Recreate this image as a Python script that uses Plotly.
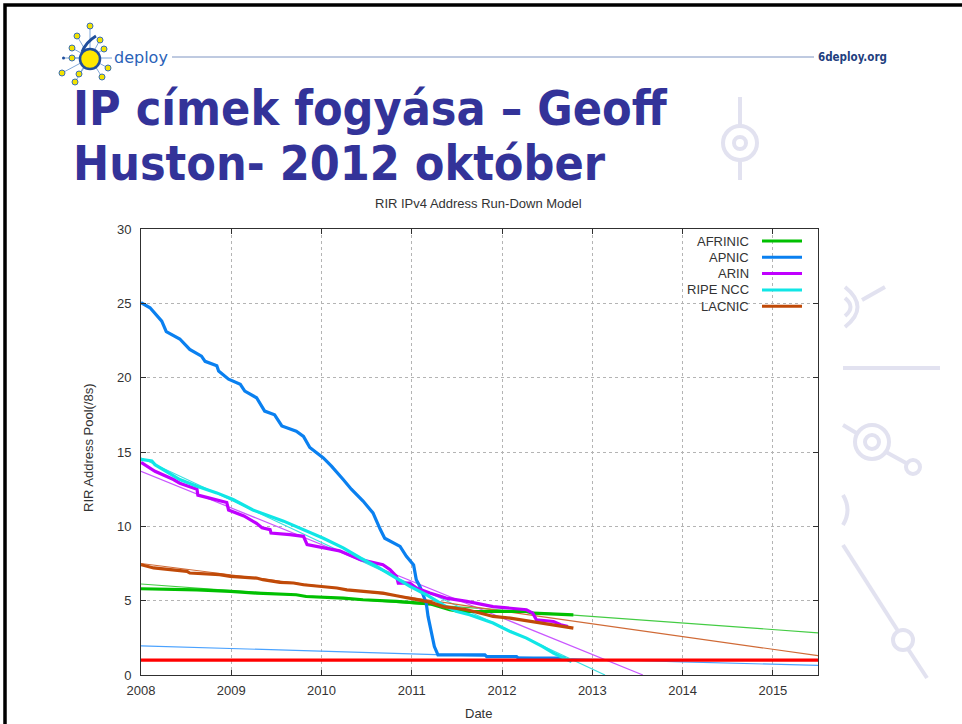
import plotly.graph_objects as go

# ---------------- data ----------------
AFRINIC_X = [2008.0, 2008.62, 2008.99, 2009.28, 2009.72, 2009.83, 2010.24, 2010.46, 2010.83,
             2011.20, 2011.42, 2011.53, 2011.90, 2012.27, 2012.34, 2012.79]
AFRINIC_Y = [5.8, 5.73, 5.62, 5.51, 5.4, 5.28, 5.17, 5.06, 4.95,
             4.79, 4.39, 4.27, 4.27, 4.27, 4.16, 4.05]

APNIC_X = [2008.0, 2008.10, 2008.23, 2008.28, 2008.43, 2008.54, 2008.67, 2008.71, 2008.84, 2008.86,
           2008.97, 2009.10, 2009.15, 2009.28, 2009.37, 2009.48, 2009.56, 2009.72, 2009.80, 2009.87,
           2010.02, 2010.11, 2010.24, 2010.33, 2010.46, 2010.57, 2010.65, 2010.70, 2010.87, 2010.94,
           2011.02, 2011.05, 2011.09, 2011.16, 2011.18, 2011.22, 2011.25, 2011.29, 2011.81, 2011.83,
           2012.16, 2012.18, 2012.70]
APNIC_Y = [25.05, 24.7, 23.8, 23.1, 22.6, 21.9, 21.45, 21.1, 20.8, 20.45,
           19.9, 19.55, 19.1, 18.65, 17.75, 17.5, 16.75, 16.4, 16.05, 15.3,
           14.6, 14.05, 13.15, 12.5, 11.7, 10.9, 9.8, 9.2, 8.65, 7.98,
           7.4, 6.4, 5.95, 4.84, 3.94, 2.82, 1.91, 1.35, 1.35, 1.24,
           1.24, 1.13, 1.13]

ARIN_X = [2008.0, 2008.155, 2008.36, 2008.43, 2008.62, 2008.63, 2008.76, 2008.95, 2008.97, 2009.14,
          2009.28, 2009.34, 2009.43, 2009.44, 2009.65, 2009.80, 2009.84, 2010.02, 2010.20, 2010.43,
          2010.68, 2010.76, 2010.83, 2010.85, 2010.98, 2011.05, 2011.20, 2011.38, 2011.61, 2011.90,
          2012.12, 2012.27, 2012.34, 2012.38, 2012.57, 2012.65, 2012.73]
ARIN_Y = [14.3, 13.7, 13.15, 12.9, 12.5, 12.1, 11.9, 11.6, 11.1, 10.7,
          10.2, 9.9, 9.78, 9.55, 9.44, 9.33, 8.77, 8.55, 8.35, 7.76,
          7.42, 7.08, 6.63, 6.18, 6.18, 5.85, 5.51, 5.17, 4.95, 4.6,
          4.5, 4.39, 4.16, 3.71, 3.6, 3.38, 3.26]

RIPE_X = [2008.0, 2008.12, 2008.155, 2008.43, 2008.62, 2008.84, 2009.02, 2009.24, 2009.58, 2009.80,
          2010.02, 2010.24, 2010.43, 2010.61, 2010.79, 2010.98, 2011.16, 2011.38, 2011.50, 2011.64,
          2011.90, 2012.09, 2012.27, 2012.45, 2012.57, 2012.68, 2012.77]
RIPE_Y = [14.5, 14.4, 14.15, 13.15, 12.7, 12.25, 11.8, 11.1, 10.35, 9.8,
          9.2, 8.55, 7.87, 7.3, 6.63, 5.96, 5.4, 4.6, 4.27, 4.05,
          3.5, 2.92, 2.48, 1.91, 1.47, 1.13, 0.9]

LACNIC_X = [2008.0, 2008.14, 2008.51, 2008.54, 2008.87, 2008.99, 2009.28, 2009.35, 2009.54, 2009.69,
            2009.80, 2010.0, 2010.17, 2010.28, 2010.46, 2010.68, 2010.83, 2011.02, 2011.20, 2011.35,
            2011.61, 2011.83, 2011.90, 2012.09, 2012.31, 2012.42, 2012.64, 2012.79]
LACNIC_Y = [7.42, 7.2, 6.97, 6.86, 6.75, 6.63, 6.52, 6.41, 6.23, 6.19,
            6.07, 5.96, 5.85, 5.73, 5.62, 5.51, 5.33, 5.11, 4.9, 4.6,
            4.39, 4.05, 3.94, 3.83, 3.6, 3.49, 3.26, 3.15]

# model (projection) curves
AFRINIC_MODEL_X = [2008.0, 2015.5]
AFRINIC_MODEL_Y = [6.12, 2.84]
APNIC_MODEL_X = [2008.0, 2011.3, 2013.0, 2014.0, 2015.5]
APNIC_MODEL_Y = [1.96, 1.35, 1.05, 0.88, 0.65]
ARIN_MODEL_X = [2008.0, 2013.56]
ARIN_MODEL_Y = [13.7, 0.0]
RIPE_MODEL_X = [2008.0, 2013.14]
RIPE_MODEL_Y = [14.6, 0.0]
LACNIC_MODEL_X = [2008.0, 2009.0, 2010.0, 2011.0, 2012.0, 2013.0, 2014.0, 2015.0, 2015.5]
LACNIC_MODEL_Y = [7.5, 6.75, 6.0, 5.2, 4.3, 3.45, 2.6, 1.75, 1.3]

THRESHOLD_X = [2008.0, 2015.5]
THRESHOLD_Y = [1.0, 1.0]

X_TICKS = [2008, 2009, 2010, 2011, 2012, 2013, 2014, 2015]
X_TICK_LABELS = ["2008", "2009", "2010", "2011", "2012", "2013", "2014", "2015"]
Y_TICKS = [0, 5, 10, 15, 20, 25, 30]

SERIES_NAMES = ["AFRINIC", "APNIC", "ARIN", "RIPE NCC", "LACNIC"]
SERIES_COLORS = ["#00c000", "#0a80f0", "#c000ff", "#10e6e6", "#c04a08"]
MODEL_COLORS = ["#44cc44", "#4aa2ff", "#c957ff", "#3ce0e0", "#d06a36"]

SERIES = [(AFRINIC_X, AFRINIC_Y), (APNIC_X, APNIC_Y), (ARIN_X, ARIN_Y), (RIPE_X, RIPE_Y), (LACNIC_X, LACNIC_Y)]
MODELS = [(AFRINIC_MODEL_X, AFRINIC_MODEL_Y), (APNIC_MODEL_X, APNIC_MODEL_Y), (ARIN_MODEL_X, ARIN_MODEL_Y),
          (RIPE_MODEL_X, RIPE_MODEL_Y), (LACNIC_MODEL_X, LACNIC_MODEL_Y)]

# ---------------- figure geometry ----------------
W, H = 962, 724
L, R, T, B = 141, 818, 229, 675


def PX(x):
    return (x - L) / (R - L)


def PY(y):
    return (B - y) / (B - T)


FONT = "Liberation Sans, Arial, sans-serif"
TXT = "#333333"

fig = go.Figure()

for (mx, my), c in zip(MODELS, MODEL_COLORS):
    fig.add_trace(go.Scatter(x=mx, y=my, mode="lines", line=dict(color=c, width=1.2),
                             showlegend=False, hoverinfo="skip"))

for (sx, sy), c, n in zip(SERIES, SERIES_COLORS, SERIES_NAMES):
    fig.add_trace(go.Scatter(x=sx, y=sy, mode="lines", name=n, line=dict(color=c, width=3.2),
                             showlegend=False))

fig.add_trace(go.Scatter(x=THRESHOLD_X, y=THRESHOLD_Y, mode="lines", line=dict(color="#ff0000", width=3.2),
                         showlegend=False, hoverinfo="skip"))

shapes = []
annotations = []

# slide border (top & left visible)
shapes.append(dict(type="rect", xref="paper", yref="paper", x0=PX(5), x1=PX(1000), y0=PY(5), y1=PY(760),
                   line=dict(color="#000000", width=3.5), layer="below"))

# background decorations (faint)
DC = "#e2e2f0"


def circ(cx, cy, r, w=4):
    return dict(type="circle", xref="paper", yref="paper", x0=PX(cx - r), x1=PX(cx + r), y0=PY(cy + r),
                y1=PY(cy - r), line=dict(color=DC, width=w), layer="below")


def seg(x0, y0, x1, y1, w=4, col=DC):
    return dict(type="line", xref="paper", yref="paper", x0=PX(x0), x1=PX(x1), y0=PY(y0), y1=PY(y1),
                line=dict(color=col, width=w), layer="below")


shapes += [seg(740, 97, 740, 126), seg(740, 160, 740, 180), circ(740, 143, 17), circ(740, 143, 6)]
shapes += [seg(862, 300, 885, 287), seg(843, 368, 940, 368)]
shapes += [seg(843, 425, 858, 434), circ(872, 442, 17), circ(872, 442, 7), seg(886, 452, 906, 463),
           circ(913, 467, 7)]
shapes += [seg(843, 545, 898, 631), circ(903, 640, 10), seg(908, 649, 927, 678)]
# partial rings cut by the chart picture
shapes.append(dict(type="path", xref="paper", yref="paper",
                   path="M %f,%f Q %f,%f %f,%f" % (PX(845), PY(287), PX(870), PY(307), PX(845), PY(327)),
                   line=dict(color=DC, width=4), layer="below"))
shapes.append(dict(type="path", xref="paper", yref="paper",
                   path="M %f,%f Q %f,%f %f,%f" % (PX(845), PY(298), PX(856), PY(307), PX(845), PY(316)),
                   line=dict(color=DC, width=4), layer="below"))
shapes.append(dict(type="path", xref="paper", yref="paper",
                   path="M %f,%f Q %f,%f %f,%f" % (PX(843), PY(495), PX(852), PY(510), PX(843), PY(525)),
                   line=dict(color=DC, width=4), layer="below"))

# header line
shapes.append(seg(172, 57, 814, 57, w=1, col="#7f95c2"))

# logo
LC = (90, 58)
dots = [(90, 26), (77, 36), (100, 40), (72, 48), (104, 49), (72, 58), (62, 73), (79, 74), (108, 68), (102, 77),
        (75, 82)]
for dx, dy in dots:
    shapes.append(seg(LC[0], LC[1], dx, dy, w=1, col="#7fa6d8"))
shapes.append(seg(LC[0], LC[1], 112, 58, w=1, col="#7fa6d8"))
shapes.append(seg(LC[0], LC[1], 63, 58, w=1, col="#7fa6d8"))
for dx, dy in dots:
    shapes.append(dict(type="circle", xref="paper", yref="paper", x0=PX(dx - 3), x1=PX(dx + 3),
                       y0=PY(dy + 3), y1=PY(dy - 3), fillcolor="#f2e200", line=dict(color="#3a6fb5", width=1)))
shapes.append(dict(type="circle", xref="paper", yref="paper", x0=PX(62), x1=PX(65), y0=PY(59.5), y1=PY(56.5),
                   fillcolor="#1f4e9c", line=dict(width=0)))
shapes.append(dict(type="circle", xref="paper", yref="paper", x0=PX(80), x1=PX(100), y0=PY(69), y1=PY(49),
                   fillcolor="#ffe800", line=dict(color="#1f4e9c", width=2.5)))
shapes.append(dict(type="path", xref="paper", yref="paper",
                   path="M %f,%f Q %f,%f %f,%f" % (PX(96), PY(36), PX(86), PY(42), PX(82), PY(52)),
                   line=dict(color="#1f4e9c", width=3)))

fig.update_layout(shapes=shapes)

# slide title
TITLE_FONT = dict(family="DejaVu Sans Condensed, DejaVu Sans, sans-serif", size=48, color="#333399",
                  weight="bold")
annotations.append(dict(text="IP címek fogyása – Geoff", x=PX(71), y=PY(108), xref="paper", yref="paper",
                        xanchor="left", yanchor="middle", showarrow=False, font=TITLE_FONT))
annotations.append(dict(text="Huston- 2012 október", x=PX(71), y=PY(163), xref="paper", yref="paper",
                        xanchor="left", yanchor="middle", showarrow=False, font=TITLE_FONT))

# logo texts
annotations.append(dict(text="deploy", x=PX(112), y=PY(57), xref="paper", yref="paper", xanchor="left",
                        yanchor="middle", showarrow=False,
                        font=dict(family="DejaVu Sans, sans-serif", size=16, color="#2a62b8")))
annotations.append(dict(text="6deploy.org", x=PX(816), y=PY(57), xref="paper", yref="paper", xanchor="left",
                        yanchor="middle", showarrow=False,
                        font=dict(family="DejaVu Sans Condensed, DejaVu Sans, sans-serif", size=11.5,
                                  color="#1f3f7f", weight="bold")))

# chart titles
annotations.append(dict(text="RIR IPv4 Address Run-Down Model", x=PX(478), y=PY(203), xref="paper",
                        yref="paper", xanchor="center", yanchor="middle", showarrow=False,
                        font=dict(family=FONT, size=13, color=TXT)))
annotations.append(dict(text="Date", x=PX(478), y=PY(713), xref="paper", yref="paper",
                        xanchor="center", yanchor="middle", showarrow=False,
                        font=dict(family=FONT, size=13, color=TXT)))
annotations.append(dict(text="RIR Address Pool(/8s)", x=PX(88), y=PY(448), xref="paper", yref="paper",
                        xanchor="center", yanchor="middle", showarrow=False, textangle=-90,
                        font=dict(family=FONT, size=13, color=TXT)))

# manual legend (text right-aligned, sample line to the right)
for i, (n, c) in enumerate(zip(SERIES_NAMES, SERIES_COLORS)):
    yy = 241 + i * 16.3
    annotations.append(dict(text=n, x=PX(751), y=PY(yy), xref="paper", yref="paper", xanchor="right",
                            yanchor="middle", showarrow=False, font=dict(family=FONT, size=13, color=TXT)))
    fig.add_shape(type="line", xref="paper", yref="paper", x0=PX(762), x1=PX(802), y0=PY(yy), y1=PY(yy),
                  line=dict(color=c, width=3))

fig.update_layout(annotations=annotations)

fig.update_xaxes(range=[2008, 2015.5], tickvals=X_TICKS, ticktext=X_TICK_LABELS,
                 showgrid=True, gridcolor="#b4b4b4", griddash="dot", gridwidth=1,
                 showline=True, linecolor="#303030", linewidth=1, mirror="ticks",
                 ticks="inside", ticklen=5, tickcolor="#303030", zeroline=False,
                 ticklabelstandoff=3,
                 tickfont=dict(family=FONT, size=13, color=TXT))
fig.update_yaxes(range=[0, 30], tickvals=Y_TICKS,
                 showgrid=True, gridcolor="#b4b4b4", griddash="dot", gridwidth=1,
                 showline=True, linecolor="#303030", linewidth=1, mirror="ticks",
                 ticks="inside", ticklen=5, tickcolor="#303030", zeroline=False,
                 ticklabelstandoff=6,
                 tickfont=dict(family=FONT, size=13, color=TXT))

fig.update_layout(width=W, height=H, autosize=False,
                  margin=dict(l=L, r=W - R, t=T, b=H - B, pad=0),
                  paper_bgcolor="#ffffff", plot_bgcolor="#ffffff",
                  showlegend=False)

fig.write_html("out.html", config={"displayModeBar": False},
               post_script="document.body.style.margin='0';document.body.style.overflow='hidden';")
